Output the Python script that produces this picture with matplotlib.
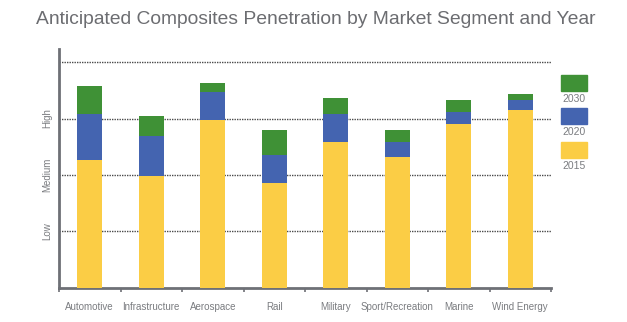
#-  Python 3 source code

#-  plot.py ~~
#
#   Stacked bars of anticipated composites penetration by market segment,
#   drawn as overlapping bars of the level reached in 2015, 2020 and 2030.

import matplotlib
matplotlib.use("Agg")
import matplotlib.pyplot as pyplot
from matplotlib.patches import Rectangle

###

segments = ["Automotive", "Infrastructure", "Aerospace", "Rail",
            "Military", "Sport/Recreation", "Marine", "Wind Energy"]

#   Penetration level reached by each year (1 = Low, 2 = Medium, 3 = High)
level_2015 = [2.26, 1.98, 2.97, 1.85, 2.58, 2.32, 2.90, 3.15]
level_2020 = [3.08, 2.69, 3.47, 2.35, 3.08, 2.59, 3.12, 3.33]
level_2030 = [3.58, 3.05, 3.62, 2.79, 3.36, 2.79, 3.32, 3.44]

years = ["2030", "2020", "2015"]
level_labels = ["Low", "Medium", "High"]

yellow = "#fbcd45"
blue = "#4464b0"
green = "#3f9136"
gray = "#6e7076"
text_gray = "#7a7c80"

###

def main():

    pyplot.rcParams["font.family"] = ["Liberation Sans", "DejaVu Sans"]

    fig = pyplot.figure(figsize=(6.27, 3.22), dpi=100)
    ax = fig.add_axes([0.0941, 0.1056, 0.7847, 0.7422])

    x = range(len(segments))
    width = 0.41

  # Later years drawn first so the earlier levels sit in front.
    ax.bar(x, level_2030, width, color=green, zorder=2)
    ax.bar(x, level_2020, width, color=blue, zorder=3)
    ax.bar(x, level_2015, width, color=yellow, zorder=4)

    ax.set_xlim(-0.5, len(segments) - 0.5)
    ax.set_ylim(0, 4.23)

    ax.set_yticks([1, 2, 3, 4])
    ax.set_yticklabels(level_labels + [""], rotation=90, va="center",
                       fontsize=7, color=text_gray)
    ax.tick_params(axis="y", length=0, pad=5)
    ax.yaxis.grid(True, linestyle=(0, (1, 0.8)), color="#4a4a4a",
                  linewidth=1.0, zorder=1)
    ax.set_axisbelow(True)

    ax.set_xticks([i - 0.5 for i in range(len(segments) + 1)])
    ax.set_xticklabels([])
    ax.set_xticks(list(x), minor=True)
    ax.set_xticklabels(segments, minor=True, fontsize=7, color=text_gray)
    ax.tick_params(axis="x", which="major", length=3, width=1.2,
                   color=gray, direction="out")
    ax.tick_params(axis="x", which="minor", length=0, pad=10)

    for side in ["top", "right"]:
        ax.spines[side].set_visible(False)
    for side in ["left", "bottom"]:
        ax.spines[side].set_color(gray)
        ax.spines[side].set_linewidth(2)

    fig.text(0.504, 0.94, "Anticipated Composites Penetration by Market "
             "Segment and Year", ha="center", va="center", fontsize=13.9,
             color="#6c6d71")

  # Legend: swatch with year label underneath.
    colours = [green, blue, yellow]
    for i, (year, colour) in enumerate(zip(years, colours)):
        top = 1 - (75 + i * 33.5) / 322
        fig.patches.append(Rectangle((561 / 627, top - 16 / 322),
                                     26 / 627, 16 / 322,
                                     transform=fig.transFigure,
                                     color=colour))
        fig.text(574 / 627, top - 23.5 / 322, year, ha="center",
                 va="center", fontsize=7.5, color=text_gray)

    fig.savefig("out.png", dpi=100)

###

if __name__ == "__main__":
    main()

#-  vim:set syntax=python:
